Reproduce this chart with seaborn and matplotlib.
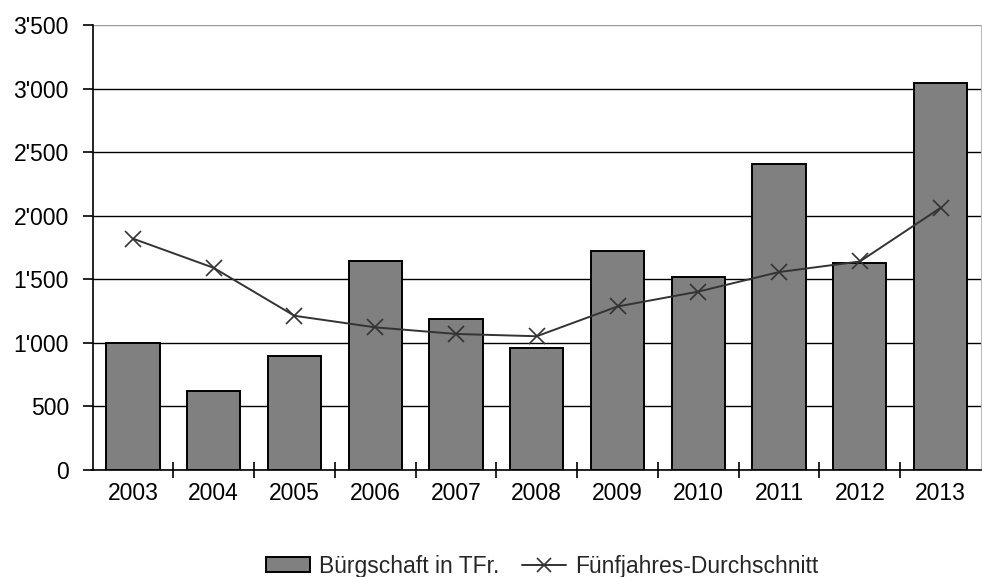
import matplotlib
matplotlib.use("Agg")
import matplotlib.pyplot as plt
from matplotlib.patches import Patch
from matplotlib.lines import Line2D
import seaborn as sns
import pandas as pd

years = ["2003", "2004", "2005", "2006", "2007", "2008", "2009", "2010", "2011", "2012", "2013"]
buergschaft = [1000, 625, 900, 1645, 1190, 960, 1720, 1515, 2405, 1630, 3040]
fuenfjahres = [1820, 1590, 1213, 1122, 1070, 1052, 1286, 1403, 1557, 1640, 2062]
ytick_values = [0, 500, 1000, 1500, 2000, 2500, 3000, 3500]
ytick_labels = ["0", "500", "1'000", "1'500", "2'000", "2'500", "3'000", "3'500"]
series_names = ["Bürgschaft in TFr.", "Fünfjahres-Durchschnitt"]

df = pd.DataFrame({"Jahr": years, "Bürgschaft": buergschaft, "Schnitt": fuenfjahres})

sns.set_theme(style="white")
plt.rcParams["font.family"] = ["Liberation Sans", "DejaVu Sans"]

fig = plt.figure(figsize=(9.82, 5.77), dpi=100)
ax = fig.add_axes([92.5 / 982, 1 - 470 / 577, (981 - 92.5) / 982, (470 - 25) / 577])

sns.barplot(data=df, x="Jahr", y="Bürgschaft", color="#808080", saturation=1,
            width=0.66, edgecolor="black", linewidth=1.4, ax=ax, zorder=2)
sns.pointplot(data=df, x="Jahr", y="Schnitt", color="#333333", markers="x",
              linestyles="-", errorbar=None, ax=ax, zorder=3,
              markersize=12, linewidth=1.4, markeredgewidth=1.2)

ax.set_xlim(-0.5, len(years) - 0.5)
ax.set_ylim(0, 3500)
ax.set_yticks(ytick_values)
ax.set_yticklabels(ytick_labels)
ax.set_xlabel("")
ax.set_ylabel("")

ax.set_axisbelow(True)
ax.yaxis.grid(True, color="black", linewidth=1.0)
ax.xaxis.grid(False)
for gl in ax.yaxis.get_gridlines()[-1:]:
    gl.set_color("#999999")

for side in ["left", "bottom"]:
    ax.spines[side].set_color("black")
    ax.spines[side].set_linewidth(1.2)
ax.spines["top"].set_visible(False)
ax.spines["right"].set_color("#bbbbbb")
ax.spines["right"].set_linewidth(0.8)

# x ticks at category boundaries, labels centered in categories
ax.set_xticks([i for i in range(len(years))])
ax.set_xticklabels(years)
ax.tick_params(axis="x", which="major", length=0, pad=9, labelsize=16.5, colors="black")
ax.set_xticks([i + 0.5 for i in range(len(years) - 1)], minor=True)
ax.tick_params(axis="x", which="minor", direction="inout", length=12, width=1.2, color="black", bottom=True)
ax.tick_params(axis="y", direction="out", length=7, width=1.2, color="black", left=True,
               pad=10, labelsize=16.5, labelcolor="black")

handles = [Patch(facecolor="#808080", edgecolor="black", linewidth=1.4),
           Line2D([], [], color="#333333", marker="x", markersize=10, linewidth=1.4, markeredgewidth=1.2)]
fig.legend(handles, series_names, loc="center", bbox_to_anchor=(542 / 982, 1 - 566 / 577),
           ncol=2, frameon=False, fontsize=16.5, handlelength=1.9, handleheight=0.6,
           handletextpad=0.4, columnspacing=1.0)

fig.savefig("out.png", dpi=100, facecolor="white")
